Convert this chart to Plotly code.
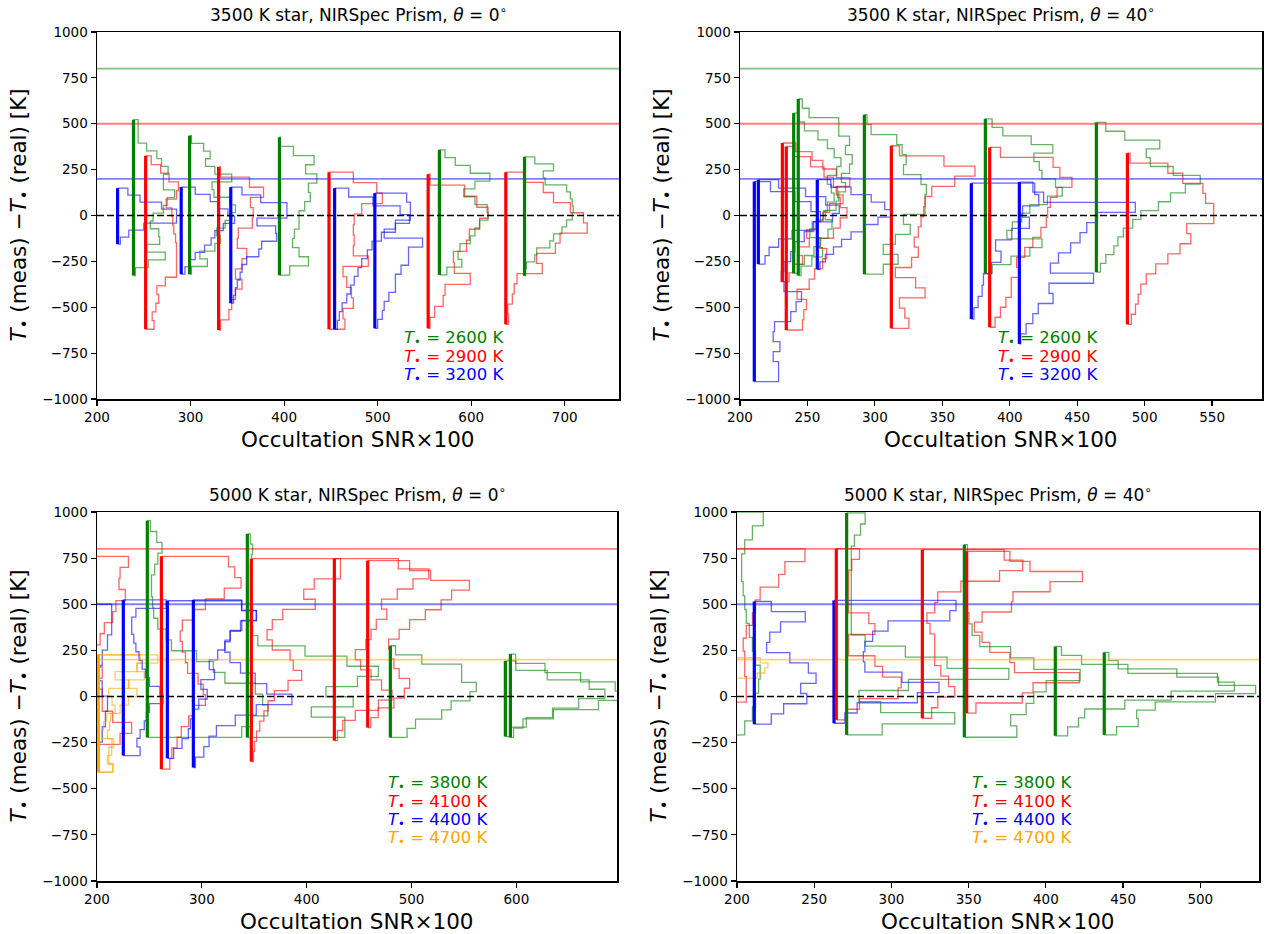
import numpy as np
import plotly.graph_objects as go

# ---------------- DATA ----------------
# colour keys: g=green, r=red, b=blue, o=orange
# Each histogram: baseline SNR (x0), y-range (ylo..yhi), bin widths bottom->top
P1_COL = ['b', 'g', 'r', 'b', 'g', 'r', 'b', 'g', 'r', 'b', 'b', 'r', 'g', 'r', 'g']
P1_X0 = [222, 239, 252, 290, 299, 330, 343, 395, 448, 454, 497, 554, 566, 637, 657]
P1_YLO = [-156, -327, -620, -320, -320, -624, -478, -325, -620, -620, -615, -615, -324, -593, -329]
P1_YHI = [149, 522, 325, 155, 435, 265, 155, 427, 236, 149, 122, 225, 358, 236, 320]
P1_W = [
    [3, 12, 28, 63, 63, 47, 24, 11],
    [2, 16, 34, 14, 28, 27, 18, 21, 32, 36, 44, 32, 32, 37, 30, 25, 14, 5, 5, 5],
    [9, 7, 11, 14, 12, 21, 33, 33, 33, 33, 32, 30, 29, 28, 22, 33, 35, 25, 16, 6],
    [4, 9, 15, 25, 32, 36, 45, 57, 50, 40, 31, 15],
    [2, 19, 11, 27, 33, 29, 38, 45, 49, 43, 26, 24, 45, 27, 17, 22, 15, 2],
    [2, 11, 14, 18, 25, 18, 25, 30, 20, 21, 36, 37, 34, 48, 33, 2],
    [3, 5, 7, 10, 12, 17, 30, 33, 49, 48, 28, 60, 60, 32, 12],
    [11, 31, 21, 14, 16, 21, 21, 27, 33, 31, 40, 28, 37, 15, 1],
    [17, 15, 26, 24, 19, 15, 42, 26, 27, 26, 27, 35, 57, 51, 26],
    [3, 5, 8, 13, 17, 21, 25, 29, 35, 40, 50, 65, 80, 70, 41, 15],
    [3, 8, 10, 15, 22, 22, 28, 36, 36, 51, 10, 22, 38, 38, 34],
    [2, 7, 16, 18, 45, 28, 27, 41, 44, 55, 64, 52, 39, 2],
    [8, 24, 20, 22, 33, 38, 43, 52, 51, 38, 26, 38, 54, 33, 17, 6],
    [3, 2, 7, 9, 12, 39, 33, 53, 58, 87, 83, 69, 51, 40, 19],
    [1, 2, 11, 13, 27, 31, 40, 45, 51, 52, 51, 49, 45, 22, 20, 31, 11],
]

P2_COL = ['b', 'b', 'r', 'r', 'g', 'g', 'b', 'g', 'r', 'b', 'g', 'r', 'b', 'g', 'r']
P2_X0 = [210.6, 213.6, 231.4, 234.3, 239.8, 243.2, 257.3, 292.2, 312.2, 371.5, 381.9, 385.1, 407.1, 464.2, 487.2]
P2_YLO = [-905, -265, -360, -624, -315, -327, -293, -320, -615, -564, -315, -609, -700, -309, -593]
P2_YHI = [185, 195, 395, 376, 558, 635, 195, 549, 380, 176, 527, 371, 182, 507, 340]
P2_W = [
    [18, 18, 14, 19, 14, 15, 27, 31, 35, 22, 20, 22, 27, 30, 37, 44, 49, 42, 30, 12],
    [5, 8, 15, 25, 40, 55, 60, 50, 35, 15],
    [5, 8, 15, 12, 20, 18, 25, 30, 35, 45, 40, 50, 40, 30, 22, 10],
    [12, 13, 15, 8, 17, 21, 27, 30, 25, 35, 40, 45, 40, 38, 35, 28, 18, 6],
    [3, 8, 15, 20, 12, 18, 22, 25, 30, 28, 25, 32, 35, 30, 25, 18, 8, 3],
    [2, 10, 18, 15, 22, 25, 20, 28, 30, 35, 32, 38, 40, 35, 38, 30, 30, 8, 3],
    [2, 6, 12, 18, 25, 35, 45, 55, 50, 40, 25, 10],
    [14, 25, 14, 23, 34, 29, 45, 45, 46, 42, 29, 31, 28, 24, 5, 2],
    [13, 10, 6, 25, 18, 3, 15, 20, 17, 20, 22, 24, 25, 30, 47, 62, 39, 6],
    [2, 5, 8, 9, 15, 22, 18, 30, 43, 38, 50, 47],
    [5, 19, 33, 42, 16, 20, 27, 33, 46, 57, 52, 42, 40, 36, 50, 34, 13, 5],
    [4, 8, 12, 16, 16, 22, 20, 26, 32, 38, 42, 43, 45, 50, 61, 52, 47, 8],
    [1, 5, 10, 14, 25, 22, 55, 23, 29, 38, 45, 50, 58, 86, 18, 10],
    [3, 7, 13, 16, 20, 27, 33, 46, 55, 66, 77, 57, 40, 37, 47, 21, 7],
    [3, 6, 8, 10, 14, 21, 30, 39, 47, 44, 64, 64, 58, 56, 41, 30, 2],
]

P3_COL = ['r', 'b', 'o', 'o', 'b', 'g', 'r', 'b', 'b', 'g', 'r', 'r', 'r', 'g', 'g', 'g']
P3_X0 = [170, 175, 185, 201.3, 225.1, 248, 261.4, 267.1, 291.9, 343.4, 347.2, 426.4, 458.2, 479.8, 589.5, 594.3]
P3_YLO = [-260, -330, -410, -410, -320, -222, -394, -335, -385, -222, -353, -239, -168, -222, -217, -222]
P3_YHI = [760, 500, 226, 226, 524, 953, 760, 519, 524, 881, 747, 747, 736, 275, 193, 230]
P3_W = [
    [52, 63, 45, 35, 35, 30, 35, 30, 28, 33, 37, 45, 48, 57, 51, 52, 60],
    [25, 30, 33, 35, 30, 27, 30, 35, 39, 39],
    [30, 25, 29, 31, 25, 27, 28, 37, 45, 53, 45, 60, 53, 73],
    [14, 10, 10, 13, 3, 5, 8, 16, 13, 10, 29, 16, 37, 40],
    [16, 13, 16, 20, 22, 25, 38, 35, 25, 21, 18, 15, 12, 10, 8, 8, 12, 41],
    [90, 100, 115, 110, 103, 74, 63, 47, 23, 18, 10, 6, 5, 4, 4, 7, 10, 14, 9, 3],
    [8, 10, 15, 19, 26, 30, 42, 40, 35, 25, 23, 20, 18, 20, 30, 42, 60, 76, 70, 64],
    [6, 14, 20, 22, 25, 30, 38, 32, 45, 40, 48, 55, 60, 71, 85, 71],
    [2, 10, 15, 22, 40, 60, 94, 70, 59, 45, 35, 30, 35, 45, 60, 46],
    [93, 93, 61, 101, 75, 105, 125, 95, 55, 10, 5, 3, 3, 3, 3, 3, 3, 4, 5, 3],
    [2, 3, 5, 8, 12, 16, 22, 35, 48, 40, 37, 20, 15, 20, 30, 61, 50, 60, 85, 85],
    [3, 8, 20, 42, 55, 45, 35, 25, 20, 30, 35, 40, 50, 45, 60, 75, 90, 61],
    [3, 10, 25, 35, 40, 30, 25, 22, 20, 30, 40, 55, 70, 80, 97, 60, 40],
    [16, 24, 49, 58, 76, 82, 68, 68, 30, 5],
    [5, 20, 45, 70, 95, 80, 40, 10],
    [3, 12, 41, 84, 105, 100, 67, 33, 5],
]

P4_COL = ['g', 'r', 'o', 'b', 'b', 'r', 'g', 'r', 'g', 'r', 'g', 'g']
P4_X0 = [190, 195, 195, 211.2, 262.8, 264.3, 271, 320, 347.2, 348.7, 406.1, 437.8]
P4_YLO = [-208, -30, 100, -150, -145, -127, -208, -118, -221, -90, -213, -208]
P4_YHI = [1000, 800, 210, 515, 521, 801, 995, 796, 823, 787, 271, 239]
P4_W = [
    [15, 20, 22, 24, 25, 22, 20, 18, 16, 15, 14, 13, 13, 15, 20, 27],
    [11, 11, 10, 10, 9, 11, 15, 17, 20, 32, 36, 49],
    [18, 23, 25, 20],
    [11, 19, 34, 30, 40, 35, 23, 8, 10, 17, 33, 11],
    [7, 15, 54, 68, 44, 20, 19, 20, 25, 35, 75, 79],
    [7, 15, 40, 42, 30, 25, 8, 8, 25, 21, 8, 8, 8, 8, 10, 15],
    [23, 70, 22, 8, 40, 105, 65, 38, 12, 3, 3, 3, 3, 3, 3, 3, 3, 5, 9, 12],
    [6, 10, 21, 17, 12, 8, 8, 8, 5, 3, 8, 10, 25, 50, 65, 53],
    [34, 30, 40, 45, 53, 75, 45, 30, 10, 5, 3, 2, 2, 2, 2, 2, 2],
    [6, 36, 43, 73, 31, 28, 15, 10, 5, 10, 29, 30, 54, 75, 41, 28],
    [8, 15, 19, 45, 75, 116, 105, 47, 17, 4],
    [8, 22, 21, 33, 72, 98, 74, 47, 9, 3],
]

# horizontal reference lines (upper grid limit)
TOP_REF_VALS = [800, 500, 200]
TOP_REF_COLS = ['g', 'r', 'b']
BOT_REF_VALS = [800, 500, 200]
BOT_REF_COLS = ['r', 'b', 'o']

TOP_LEG_T = [2600, 2900, 3200]
TOP_LEG_C = ['g', 'r', 'b']
BOT_LEG_T = [3800, 4100, 4400, 4700]
BOT_LEG_C = ['g', 'r', 'b', 'o']

TITLES = ["3500 K star, NIRSpec Prism, <i>θ</i> = 0<sup>∘</sup>",
          "3500 K star, NIRSpec Prism, <i>θ</i> = 40<sup>∘</sup>",
          "5000 K star, NIRSpec Prism, <i>θ</i> = 0<sup>∘</sup>",
          "5000 K star, NIRSpec Prism, <i>θ</i> = 40<sup>∘</sup>"]
X_RANGES = [[200, 758], [200, 587], [200, 696], [200, 538]]
X_TICKS = [[200, 300, 400, 500, 600, 700],
           [200, 250, 300, 350, 400, 450, 500, 550],
           [200, 300, 400, 500, 600],
           [200, 250, 300, 350, 400, 450, 500]]
Y_TICKS = [-1000, -750, -500, -250, 0, 250, 500, 750, 1000]

# ---------------- STYLE ----------------
RGB = {'g': (0, 128, 0), 'r': (255, 0, 0), 'b': (0, 0, 255), 'o': (255, 165, 0)}
FW, FH = 1269, 934
# panel pixel boxes in window pixels: left, right, top, bottom
BOXES = [(97, 619, 32, 399), (740, 1262, 32, 399), (97, 617, 512, 881), (737, 1259, 512, 881)]
FONT = "DejaVu Sans"


def rgba(k, a):
    r, g, b = RGB[k]
    return f"rgba({r},{g},{b},{a})"


def px2x(p):
    return p / FW


def py2y(p):
    return 1 - p / FH


fig = go.Figure()

panels = [(P1_COL, P1_X0, P1_YLO, P1_YHI, P1_W, TOP_REF_VALS, TOP_REF_COLS),
          (P2_COL, P2_X0, P2_YLO, P2_YHI, P2_W, TOP_REF_VALS, TOP_REF_COLS),
          (P3_COL, P3_X0, P3_YLO, P3_YHI, P3_W, BOT_REF_VALS, BOT_REF_COLS),
          (P4_COL, P4_X0, P4_YLO, P4_YHI, P4_W, BOT_REF_VALS, BOT_REF_COLS)]

for i, (cols, x0s, ylos, yhis, ws, rvals, rcols) in enumerate(panels):
    xa = 'x' if i == 0 else f'x{i+1}'
    ya = 'y' if i == 0 else f'y{i+1}'
    xr = X_RANGES[i]
    # step histograms
    for c, x0, ylo, yhi, w in zip(cols, x0s, ylos, yhis, ws):
        edges = np.linspace(ylo, yhi, len(w) + 1)
        xs = [x0]
        ys = [edges[0]]
        for j, wj in enumerate(w):
            xs += [x0 + wj, x0 + wj]
            ys += [edges[j], edges[j + 1]]
        xs.append(x0)
        ys.append(edges[-1])
        fig.add_trace(go.Scatter(x=xs, y=ys, mode='lines', xaxis=xa, yaxis=ya,
                                 line=dict(color=rgba(c, 0.6), width=1.3),
                                 hoverinfo='skip'))
    # reference lines
    for v, c in zip(rvals, rcols):
        fig.add_trace(go.Scatter(x=xr, y=[v, v], mode='lines', xaxis=xa, yaxis=ya,
                                 line=dict(color=rgba(c, 0.5), width=1.8),
                                 hoverinfo='skip'))
    # vertical bars
    for c, x0, ylo, yhi in zip(cols, x0s, ylos, yhis):
        fig.add_trace(go.Scatter(x=[x0, x0], y=[ylo, yhi], mode='lines', xaxis=xa, yaxis=ya,
                                 line=dict(color=rgba(c, 1), width=3.2),
                                 hoverinfo='skip'))
    # zero line
    fig.add_trace(go.Scatter(x=xr, y=[0, 0], mode='lines', xaxis=xa, yaxis=ya,
                             line=dict(color='black', width=1.6, dash='7px,3px'),
                             hoverinfo='skip'))

layout = dict(width=FW, height=FH, margin=dict(l=0, r=0, t=0, b=0, pad=0, autoexpand=False),
              plot_bgcolor='white', paper_bgcolor='white', showlegend=False)
annotations = []
for i, (l, r, t, b) in enumerate(BOXES):
    xk = 'xaxis' if i == 0 else f'xaxis{i+1}'
    yk = 'yaxis' if i == 0 else f'yaxis{i+1}'
    common = dict(showline=True, mirror=True, linecolor='black', linewidth=1.5,
                  ticks='outside', ticklen=5, tickwidth=1.2, tickcolor='black',
                  showgrid=False, zeroline=False, automargin=False,
                  tickfont=dict(family=FONT, size=13.5, color='black'))
    layout[xk] = dict(domain=[px2x(l), px2x(r)], range=X_RANGES[i], tickvals=X_TICKS[i],
                      anchor='y' if i == 0 else f'y{i+1}', **common)
    layout[yk] = dict(domain=[py2y(b), py2y(t)], range=[-1000, 1000], tickvals=Y_TICKS,
                      anchor='x' if i == 0 else f'x{i+1}', **common)
    cx = (l + r) / 2
    annotations.append(dict(text=TITLES[i], x=px2x(cx), y=py2y(t - 18), xref='paper', yref='paper',
                            xanchor='center', yanchor='middle', showarrow=False,
                            font=dict(family=FONT, size=17, color='black')))
    annotations.append(dict(text="Occultation SNR×100", x=px2x(cx), y=py2y(b + 40), xref='paper',
                            yref='paper', xanchor='center', yanchor='middle', showarrow=False,
                            font=dict(family=FONT, size=21.5, color='black')))
    annotations.append(dict(text="<i>T</i><sub>•</sub> (meas) −<i>T</i><sub>•</sub> (real) [K]",
                            x=px2x(l - 77), y=py2y((t + b) / 2), xref='paper', yref='paper',
                            xanchor='center', yanchor='middle', textangle=-90, showarrow=False,
                            font=dict(family=FONT, size=21.5, color='black')))

LEG_POS = [(402, [338, 357, 376]), (996, [338, 357, 376]),
           (386, [783, 802, 820, 838]), (970, [783, 802, 820, 838])]
for i, (lx, lys) in enumerate(LEG_POS):
    temps, cols = (TOP_LEG_T, TOP_LEG_C) if i < 2 else (BOT_LEG_T, BOT_LEG_C)
    for tv, c, ly in zip(temps, cols, lys):
        annotations.append(dict(text=f"<i>T</i><sub>•</sub> = {tv} K", x=px2x(lx), y=py2y(ly),
                                xref='paper', yref='paper', xanchor='left', yanchor='middle',
                                showarrow=False,
                                font=dict(family=FONT, size=16.5, color=rgba(c, 1))))
layout['annotations'] = annotations
fig.update_layout(**layout)
fig.write_html("out.html", config={'displayModeBar': False, 'staticPlot': True},
               post_script="document.body.style.margin='0px';document.body.style.padding='0px';")
